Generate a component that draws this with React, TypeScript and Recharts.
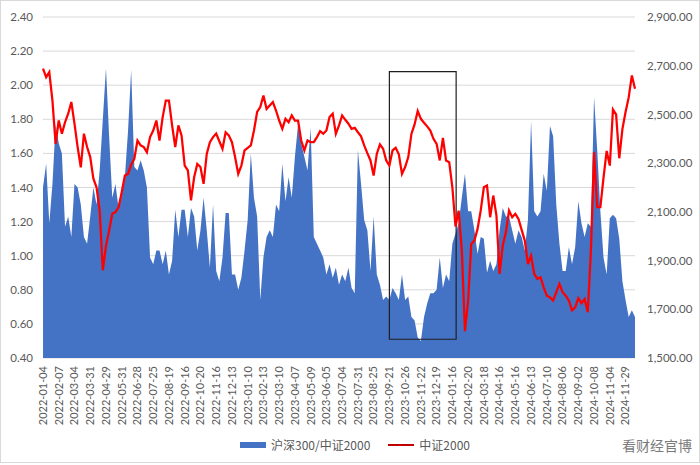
import React from 'react';
import {
  ComposedChart,
  Area,
  Line,
  XAxis,
  YAxis,
  CartesianGrid,
  ReferenceArea,
} from 'recharts';

// x-axis labels, one every 5 samples
const tickLabels = [
  '2022-01-04', '2022-02-07', '2022-03-04', '2022-03-31', '2022-04-29', '2022-05-31',
  '2022-06-28', '2022-07-25', '2022-08-19', '2022-09-16', '2022-10-20', '2022-11-16',
  '2022-12-13', '2023-01-10', '2023-02-13', '2023-03-10', '2023-04-07', '2023-05-09',
  '2023-06-05', '2023-07-04', '2023-07-31', '2023-08-25', '2023-09-21', '2023-10-26',
  '2023-11-22', '2023-12-19', '2024-01-16', '2024-02-20', '2024-03-18', '2024-04-16',
  '2024-05-16', '2024-06-13', '2024-07-10', '2024-08-06', '2024-09-02', '2024-10-08',
  '2024-11-04', '2024-11-29',
];
const LABEL_EVERY = 5;

// 沪深300/中证2000 (left axis)
const ratioValues = [
  1.40, 1.54, 1.19, 1.42, 1.77, 1.66, 1.60, 1.17, 1.23, 1.11,
  1.42, 1.40, 1.30, 1.11, 1.07, 1.23, 1.40, 1.30, 1.50, 1.80,
  2.10, 1.70, 1.34, 1.42, 1.28, 1.36, 1.46, 1.73, 2.09, 1.52,
  1.50, 1.56, 1.50, 1.40, 0.99, 0.95, 1.03, 1.03, 0.95, 1.03,
  0.89, 0.97, 1.27, 1.11, 1.27, 1.27, 1.11, 1.28, 1.23, 1.03,
  1.15, 1.34, 1.15, 0.93, 1.30, 0.91, 0.85, 0.99, 1.25, 1.25,
  0.89, 0.89, 0.80, 0.87, 1.03, 1.21, 1.60, 1.34, 1.23, 0.74,
  0.99, 1.11, 1.15, 1.11, 1.30, 1.26, 1.54, 1.32, 1.46, 1.34,
  1.58, 1.77, 1.66, 1.58, 1.50, 1.75, 1.11, 1.07, 1.03, 0.99,
  0.89, 0.95, 0.87, 0.93, 0.83, 0.89, 0.85, 0.93, 0.81, 0.78,
  1.62, 1.42, 1.21, 1.15, 0.91, 1.23, 0.89, 0.83, 0.74, 0.76,
  0.74, 0.81, 0.78, 0.74, 0.89, 0.74, 0.76, 0.64, 0.62, 0.52,
  0.50, 0.64, 0.72, 0.78, 0.78, 0.80, 0.99, 0.81, 0.89, 0.85,
  1.07, 1.13, 1.19, 1.34, 1.48, 1.26, 1.26, 1.15, 1.01, 1.11,
  1.10, 0.90, 0.97, 0.91, 0.95, 1.15, 1.28, 1.23, 1.23, 1.15,
  1.07, 1.15, 1.11, 1.03, 1.21, 1.79, 1.26, 1.23, 1.26, 1.48,
  1.38, 1.76, 1.70, 1.30, 1.07, 0.91, 0.91, 1.05, 0.95, 1.05,
  1.32, 1.19, 1.11, 1.19, 1.17, 1.93, 1.62, 1.26, 0.99, 0.89,
  1.22, 1.24, 1.22, 1.10, 0.85, 0.74, 0.64, 0.68, 0.64,
];

// 中证2000 (right axis)
const csi2000Values = [
  2688, 2653, 2674, 2557, 2379, 2475, 2421, 2468, 2503, 2551,
  2462, 2366, 2283, 2421, 2366, 2325, 2236, 2201, 2105, 1860,
  1960, 2023, 2092, 2099, 2119, 2181, 2249, 2256, 2294, 2318,
  2393, 2373, 2366, 2345, 2407, 2434, 2475, 2393, 2489, 2557,
  2557, 2455, 2366, 2455, 2414, 2290, 2270, 2147, 2242, 2297,
  2284, 2215, 2338, 2386, 2407, 2421, 2390, 2359, 2427, 2414,
  2386, 2325, 2256, 2290, 2352, 2363, 2373, 2434, 2510, 2530,
  2578, 2523, 2537, 2551, 2516, 2475, 2441, 2482, 2468, 2496,
  2475, 2475, 2393, 2352, 2393, 2386, 2386, 2407, 2431, 2421,
  2434, 2489, 2503, 2420, 2455, 2496, 2478, 2462, 2441, 2445,
  2427, 2410, 2373, 2341, 2311, 2249, 2338, 2377, 2359, 2311,
  2290, 2352, 2363, 2336, 2256, 2284, 2325, 2420, 2459, 2514,
  2482, 2466, 2451, 2434, 2400, 2379, 2311, 2404, 2311, 2304,
  2201, 2040, 2105, 1941, 1610, 1735, 1968, 1982, 2030, 2105,
  2201, 2208, 2078, 2167, 2085, 1845, 1962, 2016, 2105, 2078,
  2092, 2071, 2026, 1982, 1886, 1920, 1845, 1825, 1831, 1790,
  1756, 1749, 1736, 1770, 1804, 1770, 1756, 1736, 1695, 1708,
  1746, 1725, 1742, 1688, 1941, 2345, 2119, 2119, 2240, 2350,
  2290, 2520, 2500, 2320, 2440, 2510, 2570, 2660, 2605,
];

const leftTicks = [0.4, 0.6, 0.8, 1.0, 1.2, 1.4, 1.6, 1.8, 2.0, 2.2, 2.4];
const rightTicks = [1500, 1700, 1900, 2100, 2300, 2500, 2700, 2900];

// highlighted window (late 2023), in sample index / left-axis units
const boxFrom = 110;
const boxTo = 131.2;
const boxLow = 0.51;
const boxHigh = 2.08;

const data = ratioValues.map((ratio, i) => ({ idx: i, ratio, csi: csi2000Values[i] }));
const xTicks = tickLabels.map((_, k) => k * LABEL_EVERY);

const FONT = 'Lato, "Noto Sans CJK SC", sans-serif';
const TEXT = '#595959';

const DateTick = ({ x, y, payload }: { x?: number; y?: number; payload?: { value: number } }) => {
  const label = tickLabels[Math.round((payload?.value ?? 0) / LABEL_EVERY)] ?? '';
  return (
    <text
      x={x}
      y={y}
      dy="0.35em"
      textAnchor="end"
      transform={`rotate(-90, ${x}, ${y})`}
      fontSize={11}
      fontFamily={FONT}
      fill={TEXT}
    >
      {label}
    </text>
  );
};

export default function App() {
  return (
    <div style={{ position: 'relative', width: 700, height: 465, background: '#fff', fontFamily: FONT }}>
      <style>{'body{margin:0}'}</style>
      <ComposedChart width={700} height={465} data={data} margin={{ top: 17, right: 0, bottom: 0, left: 0 }}>
        <CartesianGrid yAxisId="left" vertical={false} stroke="#d9d9d9" />
        <XAxis
          dataKey="idx"
          type="number"
          domain={[0, ratioValues.length - 1]}
          ticks={xTicks}
          interval={0}
          height={107}
          axisLine={false}
          tickLine={false}
          tick={<DateTick />}
        />
        <YAxis
          yAxisId="left"
          domain={[0.4, 2.4]}
          ticks={leftTicks}
          width={43}
          axisLine={false}
          tickLine={false}
          tickMargin={4}
          tickFormatter={(v: number) => v.toFixed(2)}
          tick={{ fontSize: 11.5, fill: TEXT, fontFamily: FONT }}
        />
        <YAxis
          yAxisId="right"
          orientation="right"
          domain={[1500, 2900]}
          ticks={rightTicks}
          width={65}
          axisLine={false}
          tickLine={false}
          tickMargin={6}
          tickFormatter={(v: number) =>
            v.toLocaleString('en-US', { minimumFractionDigits: 2, maximumFractionDigits: 2 })
          }
          tick={{ fontSize: 11.5, fill: TEXT, fontFamily: FONT }}
        />
        <Area
          yAxisId="left"
          type="linear"
          dataKey="ratio"
          stroke="none"
          fill="#4472c4"
          fillOpacity={1}
          isAnimationActive={false}
        />
        <Line
          yAxisId="right"
          type="linear"
          dataKey="csi"
          stroke="#ff0000"
          strokeWidth={2.25}
          dot={false}
          isAnimationActive={false}
        />
        <ReferenceArea
          yAxisId="left"
          x1={boxFrom}
          x2={boxTo}
          y1={boxLow}
          y2={boxHigh}
          fill="none"
          stroke="#1f1f1f"
          strokeWidth={1.2}
          ifOverflow="visible"
        />
      </ComposedChart>

      {/* legend */}
      <div style={{ position: 'absolute', left: 240, top: 436, display: 'flex', alignItems: 'center', fontSize: 12, color: TEXT, fontFamily: '"Noto Sans CJK SC", sans-serif' }}>
        <span style={{ display: 'inline-block', width: 26, height: 6, background: '#4472c4', marginRight: 5 }} />
        <span>沪深300/中证2000</span>
        <span style={{ display: 'inline-block', width: 26, height: 2, background: '#c00000', marginLeft: 18, marginRight: 5 }} />
        <span>中证2000</span>
      </div>

      <div style={{ position: 'absolute', left: 622, top: 435, fontSize: 14, color: '#7a7a7a', fontFamily: '"Noto Sans CJK SC", sans-serif' }}>
        看财经官博
      </div>

      <div style={{ position: 'absolute', left: 0, top: 0, width: 700, height: 463, boxSizing: 'border-box', border: '1px solid #d9d9d9', pointerEvents: 'none' }} />
    </div>
  );
}
